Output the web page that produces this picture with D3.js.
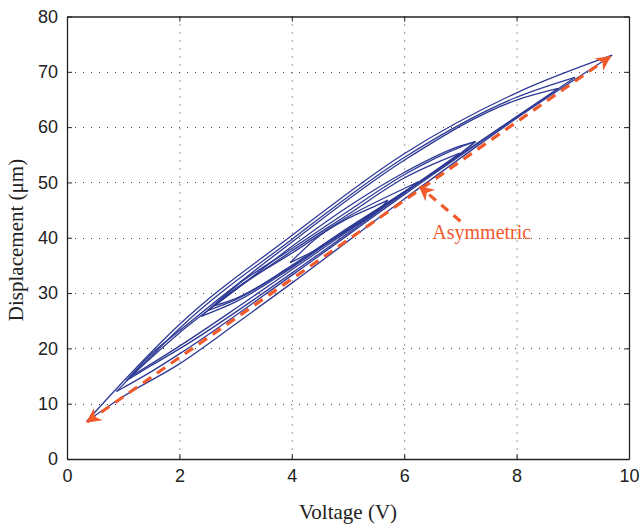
<!DOCTYPE html>
<html><head><meta charset="utf-8">
<script src="https://cdn.jsdelivr.net/npm/d3@7"></script>
<style>
html,body{margin:0;padding:0;background:#fff;}
svg{display:block;}
</style></head>
<body>
<svg id="chart" width="640" height="527"></svg>
<script>
// ---- data ----
const xTicks = [0, 2, 4, 6, 8, 10];
const yTicks = [0, 10, 20, 30, 40, 50, 60, 70, 80];

// Hysteresis loops: upper (descending) and lower (ascending) branches, [voltage, displacement]
const loop1Upper = [[0.35,6.8],[1,14.0],[2,24.3],[4,40.4],[6,55.2],[8,66.2],[9.7,73.0]];
const loop1Lower = [[0.35,6.8],[1,11.3],[2,17.2],[3,24.4],[4,31.8],[6,47.0],[8,61.6],[9.7,73.0]];
const loop2Upper = [[0.88,12.2],[1.5,18.6],[2,23.6],[4,39.7],[6,54.5],[8,65.4],[9.04,69.0]];
const loop2Lower = [[0.88,12.2],[1.5,15.8],[2,19.0],[4,33.2],[6,47.8],[8,61.8],[9.04,69.0]];
const loop3Upper = [[1.06,14.2],[1.5,19.0],[2,23.2],[4,39.2],[6,54.0],[8,64.9],[8.74,67.0]];
const loop3Lower = [[1.06,14.2],[1.5,16.9],[2,19.9],[4,33.6],[6,48.1],[8,61.9],[8.74,67.0]];
const loop4Upper = [[1.12,14.8],[2,22.8],[3,30.6],[4,38.4],[5,45.6],[6,51.8],[7,56.6],[7.27,57.4]];
const loop4Lower = [[1.12,14.8],[2,20.4],[3,27.2],[4,34.2],[5,41.2],[6,48.2],[7,55.2],[7.27,57.4]];
const loop5Upper = [[2.39,25.8],[3,31.2],[4,38.0],[5,44.8],[6,51.4],[7,56.4],[7.27,57.4]];
const loop5Lower = [[2.39,25.8],[3,28.4],[4,34.6],[5,41.6],[6,48.3],[7,55.2],[7.27,57.4]];
const loop6Upper = [[2.62,27.7],[3,30.6],[4,37.6],[5,44.2],[6,50.8],[6.99,55.3]];
const loop6Lower = [[2.62,27.7],[3,29.0],[4,35.0],[5,41.8],[6,48.3],[6.99,55.3]];
const loop7Upper = [[2.5,26.8],[3,30.8],[4,37.2],[5,43.8],[6,48.9],[6.25,50.1]];
const loop7Lower = [[2.5,26.8],[3,28.8],[4,34.8],[5,41.5],[6,48.2],[6.25,50.1]];
const loop8Upper = [[3.97,35.5],[4.5,40.4],[5,43.5],[5.5,45.8],[5.71,46.8]];
const loop8Lower = [[3.97,35.5],[4.5,38.2],[5,41.4],[5.5,44.6],[5.71,46.8]];

const branches = [loop1Upper, loop1Lower, loop2Upper, loop2Lower, loop3Upper, loop3Lower,
  loop4Upper, loop4Lower, loop5Upper, loop5Lower, loop6Upper, loop6Lower,
  loop7Upper, loop7Lower, loop8Upper, loop8Lower];

// Annotation arrows
const trendArrow = [[0.36,6.7],[9.66,72.7]];
const asymArrow = [[7.0,43.0],[6.28,49.2]];
const asymLabel = {text: "Asymmetric", x: 6.5, y: 39.7};

const xLabel = "Voltage (V)";
const yLabel = "Displacement (\u03bcm)";

// ---- drawing ----
const svg = d3.select("#chart");
const x = d3.scaleLinear().domain([0, 10]).range([67, 629]);
const y = d3.scaleLinear().domain([0, 80]).range([459, 16.5]);

const blue = "#2d3994";
const orange = "#f15a2b";

const defs = svg.append("defs");
defs.append("marker")
  .attr("id", "head")
  .attr("viewBox", "0 0 10 10")
  .attr("refX", 9).attr("refY", 5)
  .attr("markerUnits", "userSpaceOnUse")
  .attr("markerWidth", 18).attr("markerHeight", 15)
  .attr("orient", "auto-start-reverse")
  .append("path")
  .attr("d", "M0,0 L10,5 L0,10 L3,5 Z")
  .attr("fill", orange);

// grid
const grid = svg.append("g").attr("stroke", "#444").attr("stroke-width", 1)
  .attr("stroke-dasharray", "1,7").attr("fill", "none");
grid.selectAll(".gx").data(xTicks.slice(1, -1)).join("line")
  .attr("x1", d => x(d) + 0.5).attr("x2", d => x(d) + 0.5)
  .attr("y1", y(80)).attr("y2", y(0));
grid.selectAll(".gy").data(yTicks.slice(1, -1)).join("line")
  .attr("y1", d => Math.round(y(d)) + 0.5).attr("y2", d => Math.round(y(d)) + 0.5)
  .attr("x1", x(0)).attr("x2", x(10));

// axes
const xAxisB = d3.axisBottom(x).tickValues(xTicks).tickSizeInner(-5).tickSizeOuter(0).tickPadding(10);
const xAxisT = d3.axisTop(x).tickValues(xTicks).tickSizeInner(-5).tickSizeOuter(0).tickFormat("");
const yAxisL = d3.axisLeft(y).tickValues(yTicks).tickSizeInner(-5).tickSizeOuter(0).tickPadding(9);
const yAxisR = d3.axisRight(y).tickValues(yTicks).tickSizeInner(-5).tickSizeOuter(0).tickFormat("");

function styleAxis(g) {
  g.selectAll("path").attr("stroke", "#222").attr("stroke-width", 1.3);
  g.selectAll("line").attr("stroke", "#222").attr("stroke-width", 1);
  g.selectAll("text").attr("fill", "#222").style("font-family", "'Liberation Sans', Arial, sans-serif").style("font-size", "18px");
}
svg.append("g").attr("transform", `translate(0,${y(0)})`).call(xAxisB).call(styleAxis);
svg.append("g").attr("transform", `translate(0,${y(80)})`).call(xAxisT).call(styleAxis);
svg.append("g").attr("transform", `translate(${x(0)},0)`).call(yAxisL).call(styleAxis);
svg.append("g").attr("transform", `translate(${x(10)},0)`).call(yAxisR).call(styleAxis);

// loops
const line = d3.line().x(d => x(d[0])).y(d => y(d[1])).curve(d3.curveMonotoneX);
svg.append("g").selectAll("path").data(branches).join("path")
  .attr("d", line)
  .attr("fill", "none")
  .attr("stroke", blue)
  .attr("stroke-width", 1.3)
  .attr("stroke-linejoin", "miter");

// arrows
const straight = d3.line().x(d => x(d[0])).y(d => y(d[1]));
svg.append("path").attr("d", straight(trendArrow))
  .attr("fill", "none").attr("stroke", orange).attr("stroke-width", 3.2)
  .attr("stroke-dasharray", "10,7")
  .attr("marker-start", "url(#head)").attr("marker-end", "url(#head)");
svg.append("path").attr("d", straight(asymArrow))
  .attr("fill", "none").attr("stroke", orange).attr("stroke-width", 3.2)
  .attr("stroke-dasharray", "9,7")
  .attr("marker-end", "url(#head)");

svg.append("text").attr("x", x(asymLabel.x)).attr("y", y(asymLabel.y))
  .attr("fill", orange)
  .style("font-family", "'Liberation Serif', 'Times New Roman', serif")
  .style("font-size", "20px")
  .text(asymLabel.text);

// axis titles
svg.append("text").attr("x", 348).attr("y", 519).attr("text-anchor", "middle")
  .attr("fill", "#222")
  .style("font-family", "'Liberation Serif', 'Times New Roman', serif").style("font-size", "21px")
  .text(xLabel);
svg.append("text").attr("transform", "translate(23,240) rotate(-90)").attr("text-anchor", "middle")
  .attr("fill", "#222")
  .style("font-family", "'Liberation Serif', 'Times New Roman', serif").style("font-size", "21px")
  .text(yLabel);
</script>
</body></html>
